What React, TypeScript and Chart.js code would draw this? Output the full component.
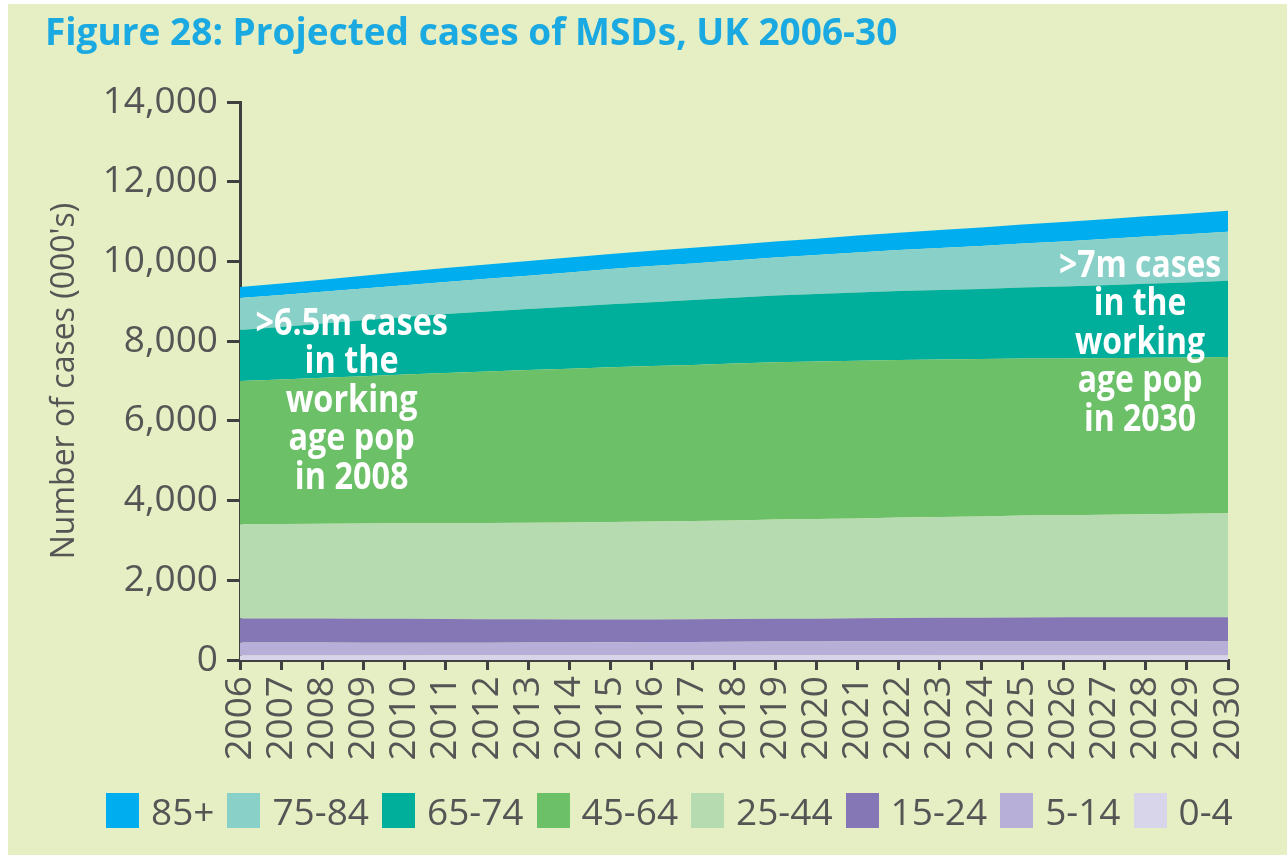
import React, { useEffect, useRef } from "react";
import { Chart, registerables } from "chart.js";

Chart.register(...registerables);

// ---------- data ----------
const years = [
  "2006", "2007", "2008", "2009", "2010", "2011", "2012", "2013", "2014",
  "2015", "2016", "2017", "2018", "2019", "2020", "2021", "2022", "2023",
  "2024", "2025", "2026", "2027", "2028", "2029", "2030",
];

const age0to4 = [112, 113, 114, 115, 116, 117, 117, 118, 118, 118, 118, 118, 118, 118, 117, 117, 117, 116, 116, 116, 116, 116, 116, 116, 116];
const age5to14 = [330, 326, 322, 319, 317, 316, 317, 319, 322, 326, 331, 336, 341, 345, 348, 351, 353, 354, 355, 355, 355, 354, 353, 352, 351];
const age15to24 = [600, 603, 604, 603, 600, 596, 590, 584, 578, 573, 570, 568, 568, 570, 573, 577, 582, 587, 592, 596, 599, 601, 602, 603, 603];
const age25to44 = [2362, 2368, 2377, 2388, 2396, 2402, 2415, 2424, 2430, 2446, 2455, 2463, 2474, 2490, 2497, 2508, 2521, 2529, 2540, 2556, 2561, 2572, 2588, 2597, 2613];
const age45to64 = [3593, 3628, 3664, 3697, 3735, 3770, 3801, 3830, 3858, 3880, 3900, 3918, 3935, 3948, 3955, 3958, 3957, 3953, 3947, 3940, 3935, 3930, 3926, 3922, 3920];
const age65to74 = [1281, 1318, 1360, 1401, 1441, 1478, 1506, 1530, 1555, 1580, 1604, 1628, 1652, 1672, 1690, 1708, 1725, 1742, 1760, 1781, 1806, 1832, 1858, 1884, 1910];
const age75to84 = [804, 800, 797, 796, 798, 804, 818, 838, 862, 885, 905, 920, 935, 955, 980, 1005, 1030, 1055, 1080, 1103, 1130, 1155, 1180, 1206, 1231];
const age85plus = [277, 290, 305, 320, 335, 350, 358, 366, 374, 381, 388, 392, 395, 402, 412, 424, 437, 450, 464, 478, 489, 500, 510, 519, 527];

const seriesLabels = ["0-4", "5-14", "15-24", "25-44", "45-64", "65-74", "75-84", "85+"];
const seriesValues = [age0to4, age5to14, age15to24, age25to44, age45to64, age65to74, age75to84, age85plus];
const seriesColors = ["#d8d4ea", "#b7afd7", "#8577b5", "#b6dbb0", "#6cc068", "#00ae9c", "#89d0c8", "#00aeef"];

const yMin = 0;
const yMax = 14000;
const yStep = 2000;

const titleText = "Figure 28: Projected cases of MSDs, UK 2006-30";
const yAxisTitle = "Number of cases (000's)";
const note2008 = [">6.5m cases", "in the", "working", "age pop", "in 2008"];
const note2030 = [">7m cases", "in the", "working", "age pop", "in 2030"];

// ---------- styling ----------
const BG = "#e6eec3";
const TEXT = "#555555";
const AXIS = "#404040";
const TITLE_COLOR = "#1ba9e1";
const FONT = '"Open Sans", "Noto Sans", sans-serif';

const W = 1279;
const H = 851;

const overlayPlugin = {
  id: "overlayText",
  afterDatasetsDraw(chart: any) {
    const { ctx, chartArea } = chart;
    const cw = chartArea.right - chartArea.left;
    const ch = chartArea.bottom - chartArea.top;

    const drawBlock = (lines: string[], fx: number, fy: number, targetRefWidth: number) => {
      ctx.save();
      ctx.font = `bold 37px ${FONT}`;
      ctx.fillStyle = "#ffffff";
      ctx.textAlign = "center";
      ctx.textBaseline = "middle";
      const m = ctx.measureText("working").width;
      const sx = Math.min(1, targetRefWidth / m);
      const cx = chartArea.left + fx * cw;
      const cy0 = chartArea.top + fy * ch;
      lines.forEach((ln, i) => {
        ctx.save();
        ctx.translate(cx, cy0 + i * 38.5);
        ctx.scale(sx, 1);
        ctx.fillText(ln, 0, 0);
        ctx.restore();
      });
      ctx.restore();
    };
    drawBlock(note2008, 0.113, 0.398, 132);
    drawBlock(note2030, 0.911, 0.294, 130);
  },
  afterDraw(chart: any) {
    const { ctx } = chart;
    ctx.save();
    ctx.font = `bold 37px ${FONT}`;
    ctx.fillStyle = TITLE_COLOR;
    ctx.textAlign = "left";
    ctx.textBaseline = "alphabetic";
    const m = ctx.measureText(titleText).width;
    const sx = Math.min(1, 857 / m);
    ctx.translate(37, 41);
    ctx.scale(sx, 1);
    ctx.fillText(titleText, 0, 0);
    ctx.restore();
  },
};

export default function App() {
  const canvasRef = useRef<HTMLCanvasElement | null>(null);

  useEffect(() => {
    if (!canvasRef.current) return;
    const datasets = seriesLabels.map((label, i) => ({
      label,
      data: seriesValues[i],
      backgroundColor: seriesColors[i],
      borderColor: seriesColors[i],
      borderWidth: 0,
      pointRadius: 0,
      pointHoverRadius: 0,
      tension: 0,
      fill: i === 0 ? "origin" : "-1",
    }));

    const chart = new Chart(canvasRef.current, {
      type: "line",
      data: { labels: years, datasets: datasets as any },
      options: {
        responsive: false,
        animation: false,
        devicePixelRatio: 1,
        layout: { padding: { top: 98, right: 59, left: 0, bottom: 0 } },
        plugins: {
          legend: { display: false },
          title: { display: false },
          tooltip: { enabled: false },
        },
        elements: { line: { borderWidth: 0 } },
        scales: {
          x: {
            type: "category",
            offset: false,
            grid: {
              drawOnChartArea: false,
              drawTicks: true,
              tickLength: 10,
              color: AXIS,
              lineWidth: 3,
            },
            border: { display: true, color: AXIS, width: 3 },
            ticks: {
              autoSkip: false,
              minRotation: 90,
              maxRotation: 90,
              padding: 6,
              color: TEXT,
              font: { family: FONT, size: 37 },
            },
            afterFit: (scale: any) => {
              scale.height = 195;
            },
          },
          y: {
            stacked: true,
            min: yMin,
            max: yMax,
            grid: {
              drawOnChartArea: false,
              drawTicks: true,
              tickLength: 13,
              color: AXIS,
              lineWidth: 3,
            },
            border: { display: true, color: AXIS, width: 3 },
            ticks: {
              stepSize: yStep,
              padding: 9,
              color: TEXT,
              font: { family: FONT, size: 37 },
              callback: (v: any) => Number(v).toLocaleString("en-US"),
            },
            title: {
              display: true,
              text: yAxisTitle,
              color: TEXT,
              font: { family: FONT, size: 32 },
              padding: { top: 38, bottom: 0 },
            },
            afterFit: (scale: any) => {
              scale.width = 232;
            },
          },
        },
      },
      plugins: [overlayPlugin],
    });
    return () => chart.destroy();
  }, []);

  const legendOrder = [...seriesLabels.keys()].reverse();

  return (
    <div
      style={{
        position: "fixed",
        left: 8,
        top: 4,
        width: W,
        height: H,
        background: BG,
        overflow: "hidden",
      }}
    >
      <canvas ref={canvasRef} width={W} height={H} style={{ display: "block" }} />
      <div
        style={{
          position: "absolute",
          left: 98,
          top: 789,
          height: 35,
          display: "flex",
          alignItems: "center",
          whiteSpace: "nowrap",
        }}
      >
        {legendOrder.map((i) => (
          <div key={seriesLabels[i]} style={{ display: "flex", alignItems: "center", marginRight: 13 }}>
            <div style={{ width: 33, height: 35, background: seriesColors[i], marginRight: 12 }} />
            <span style={{ fontFamily: FONT, fontSize: 37, color: TEXT, lineHeight: "35px" }}>
              {seriesLabels[i]}
            </span>
          </div>
        ))}
      </div>
    </div>
  );
}
